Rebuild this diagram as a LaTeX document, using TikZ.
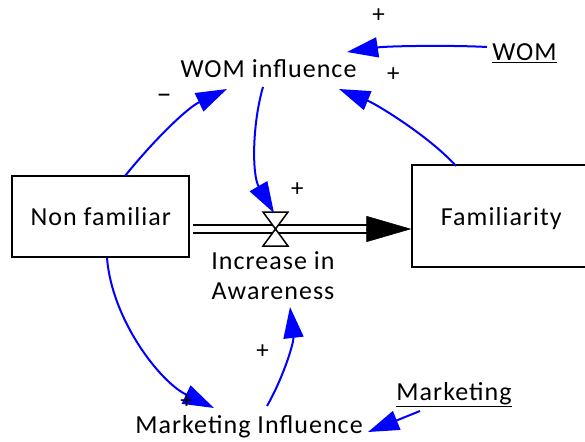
\documentclass[tikz,border=0pt]{standalone}
\usepackage{fontspec}
\setmainfont[LetterSpace=4]{Carlito}
\usetikzlibrary{arrows.meta}
\begin{document}
\begin{tikzpicture}[x=1pt,y=-1pt,
  lbl/.style={font=\fontsize{26}{30}\selectfont, inner sep=0pt, anchor=base},
  stockbox/.style={draw, line width=2pt, inner sep=0pt, font=\fontsize{26}{30}\selectfont, text height=18pt, text depth=0pt},
  link/.style={draw=blue, line width=2pt, -{Triangle[length=31pt,width=20pt]}},
  sign/.style={font=\fontsize{25}{30}\selectfont, inner sep=0pt},
  pipe/.style={draw=black, line width=2pt, double=white, double distance=6pt},
  valvestyle/.style={draw=black, line width=1.5pt, fill=white}]
\useasboundingbox (0,0) rectangle (585,441);

% stocks
\node[stockbox, minimum width=177pt, minimum height=81pt] (nf) at (100.8,216.2) {Non familiar};
\node[stockbox, minimum width=178pt, minimum height=102pt] (fam) at (501.3,216.2) {Familiarity};

% variables
\node[lbl] (wi) at (268.5,77.5) {WOM influence};
\node[lbl] (wom) at (524.5,60.5) {\underline{WOM}};
\node[lbl, align=center] (inc) at (273,299.5) {Increase in\\Awareness};
\node[lbl] (mi) at (249,433) {Marketing Influence};
\node[lbl] (mk) at (454,400) {\underline{Marketing}};

% flow
\coordinate (valve) at (275.5,229);
\coordinate (pipeL) at (nf.east |- valve);
\coordinate (pipeR) at (fam.west |- valve);
\coordinate (pipeH) at (368,229);
\draw[pipe, shorten <=3pt] (pipeL) -- (pipeH);
\draw[line width=0.5pt, -{Triangle[length=45pt,width=26pt]}] (pipeH) -- (pipeR);
\draw[valvestyle, shift={(valve)}] (-12.5,-17) -- (12.5,-17) -- (-12.5,17) -- (12.5,17) -- cycle;

% connector end points
\coordinate (nfTop) at (125,176);
\coordinate (wiL) at (227,89);
\coordinate (wiBot) at (263,87);
\coordinate (valveTop) at (274,213);
\coordinate (famTop) at (456,166);
\coordinate (wiR) at (339,89);
\coordinate (nfBot) at (107,258);
\coordinate (miL) at (214,408);
\coordinate (miTop) at (267,406);
\coordinate (incBot) at (290,307);
\coordinate (womL) at (487,47);
\coordinate (wiTR) at (347,52);
\coordinate (mkL) at (420,411);
\coordinate (miR) at (368,432);

% links
\draw[link] (nfTop) .. controls (154,140) and (187,108) .. (wiL);
\draw[link] (wiBot) .. controls (252,125) and (252,175) .. (valveTop);
\draw[link] (famTop) .. controls (429,136) and (376,104) .. (wiR);
\draw[link] (nfBot) .. controls (112,320) and (160,382) .. (miL);
\draw[link] (miTop) .. controls (284,376) and (294,342) .. (incBot);
\draw[link] (womL) .. controls (450,45) and (387,46) .. (wiTR);
\draw[link] (mkL) -- (miR);

% polarities
\node[sign] (p1) at (378.7,16) {+};
\node[sign] (p2) at (393.3,74.3) {+};
\node[sign, font=\fontsize{30}{30}\selectfont] (p3) at (164,99) {–};
\node[sign] (p4) at (297.3,190) {+};
\node[sign] (p5) at (262.7,351.7) {+};
\node[sign] (p6) at (186.7,402) {+};
\end{tikzpicture}
\end{document}
